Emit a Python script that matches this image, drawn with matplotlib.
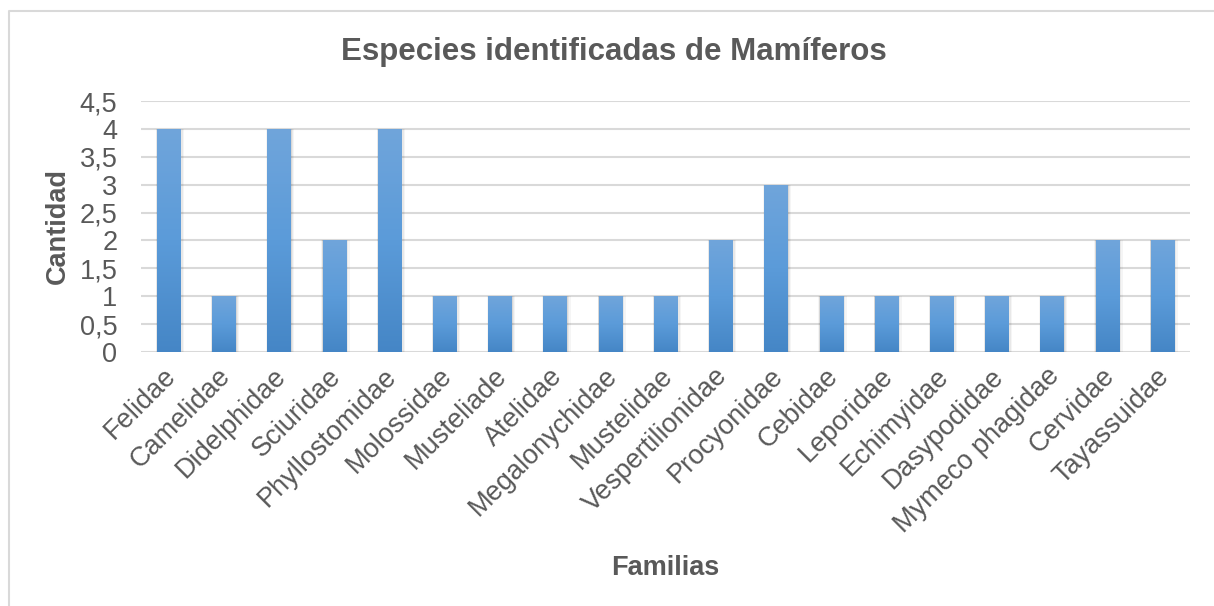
import numpy as np
import matplotlib.pyplot as plt
from matplotlib.colors import LinearSegmentedColormap
from matplotlib.patches import Rectangle
from matplotlib.lines import Line2D
from matplotlib.transforms import ScaledTranslation

plt.rcParams["font.family"] = ["Liberation Sans", "DejaVu Sans"]

familias = ["Felidae", "Camelidae", "Didelphidae", "Sciuridae", "Phyllostomidae",
            "Molossidae", "Musteliade", "Atelidae", "Megalonychidae", "Mustelidae",
            "Vespertilionidae", "Procyonidae", "Cebidae", "Leporidae", "Echimyidae",
            "Dasypodidae", "Mymeco phagidae", "Cervidae", "Tayassuidae"]
cantidad = [4, 1, 4, 2, 4, 1, 1, 1, 1, 1, 2, 3, 1, 1, 1, 1, 1, 2, 2]
yticks = [0, 0.5, 1, 1.5, 2, 2.5, 3, 3.5, 4, 4.5]

GRAY = "#595959"
grad = LinearSegmentedColormap.from_list("g", ["#4586c6", "#5b9bd9", "#70a5db"])

fig = plt.figure(figsize=(12.14, 6.06), dpi=100)
# chart border (only top and left visible)
fig.add_artist(Line2D([9 / 1214, 9 / 1214, 1], [0, 1 - 11 / 606, 1 - 11 / 606],
                      transform=fig.transFigure, color="#d9d9d9", linewidth=1.5))
ax = fig.add_axes([141 / 1214, 1 - 352 / 606, 1049 / 1214, 251 / 606])

x = np.arange(len(familias))
bars = ax.bar(x, cantidad, width=0.42, color="none", zorder=3)
g = np.linspace(0, 1, 256).reshape(-1, 1)
for b in bars:
    x0, y0 = b.get_x(), b.get_y()
    w, h = b.get_width(), b.get_height()
    # soft shadow
    for k, a in [(0.07, 0.04), (0.045, 0.05), (0.02, 0.07)]:
        ax.add_patch(Rectangle((x0 - k * 0.3, y0 - 0.03), w + k * 1.3, h + 0.03,
                               facecolor="#000000", alpha=a, edgecolor="none", zorder=2))
    im = ax.imshow(g, extent=[x0, x0 + w, y0, y0 + h], origin="lower",
                   cmap=grad, aspect="auto", zorder=3)
    im.set_clip_path(b)
ax.set_xlim(-0.5, len(familias) - 0.5)
ax.set_ylim(0, 4.5)

ax.set_yticks(yticks)
ax.set_yticklabels([f"{v:g}".replace(".", ",") for v in yticks], fontsize=19.5, color=GRAY)
ax.set_xticks(x)
ax.set_xticklabels(familias, rotation=45, ha="right", rotation_mode="anchor",
                   fontsize=19.5, color=GRAY)
ax.tick_params(length=0)
ax.tick_params(axis="y", pad=17)
ax.tick_params(axis="x", pad=8)
off = ScaledTranslation(-6 / 100, 0, fig.dpi_scale_trans)
for lab in ax.get_xticklabels():
    lab.set_transform(lab.get_transform() + off)
ax.grid(axis="y", color="#d9d9d9", linewidth=1.5, zorder=0)
ax.set_axisbelow(True)
for s in ax.spines.values():
    s.set_visible(False)

fig.text(614 / 1214, 1 - 52 / 606, "Especies identificadas de Mamíferos", ha="center",
         va="center", fontsize=22.5, fontweight="bold", color=GRAY)
fig.text(58 / 1214, 1 - 226 / 606, "Cantidad", rotation=90, ha="center", va="center",
         fontsize=19.5, fontweight="bold", color=GRAY)
fig.text(665 / 1214, 1 - 568 / 606, "Familias", ha="center", va="center",
         fontsize=19.5, fontweight="bold", color=GRAY)

fig.savefig("out.png", dpi=100)
